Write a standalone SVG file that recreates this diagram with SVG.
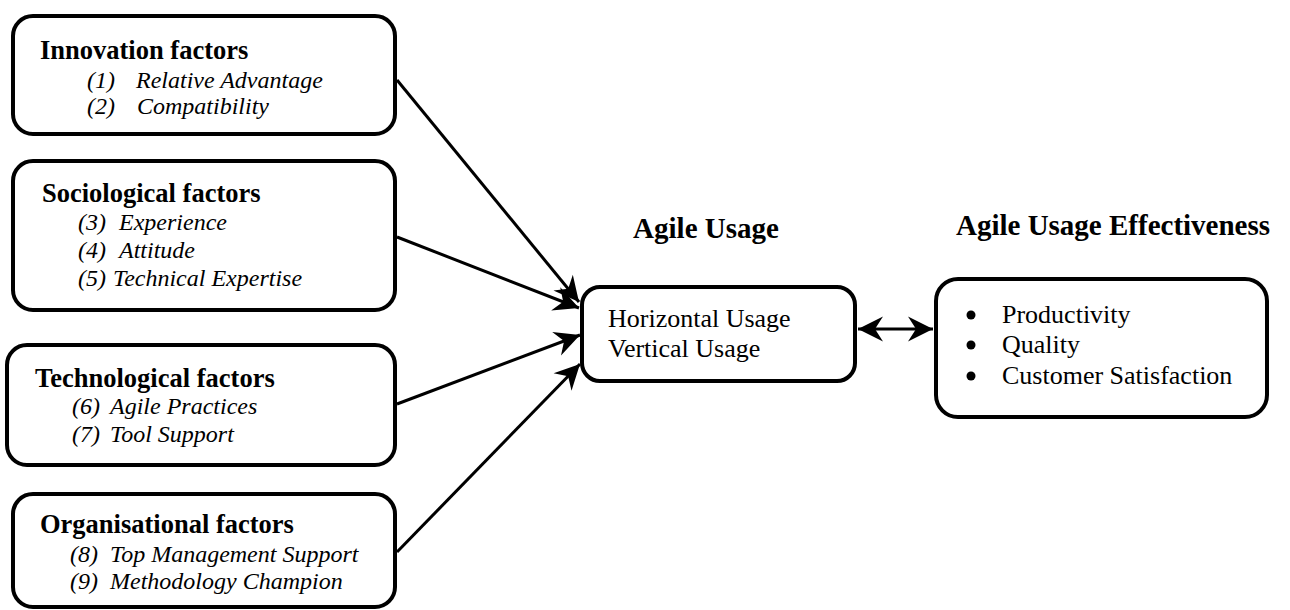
<svg xmlns="http://www.w3.org/2000/svg" width="1290" height="610" viewBox="0 0 1290 610">
<style>
.box{fill:#fff;stroke:#000;stroke-width:4}
.con{stroke:#000;stroke-width:3;fill:none}
.h{font-family:"Liberation Serif","Times New Roman",serif;font-weight:bold;font-size:26.5px;fill:#000}
.t{font-family:"Liberation Serif","Times New Roman",serif;font-weight:bold;font-size:29px;fill:#000}
.i{font-family:"Liberation Serif","Times New Roman",serif;font-style:italic;font-size:24px;fill:#000}
.r{font-family:"Liberation Serif","Times New Roman",serif;font-size:26px;fill:#000}
</style>
<defs>
<marker id="ah" markerUnits="userSpaceOnUse" markerWidth="30" markerHeight="30" viewBox="-27 -15 30 30" refX="0" refY="0" orient="auto-start-reverse">
<path d="M0,0 L-25,-12.5 L-17,0 L-25,12.5 Z" fill="#000"/>
</marker>
</defs>
<rect width="1290" height="610" fill="#fff"/>
<g id="connectors">
<line class="con" x1="397" y1="80" x2="579" y2="302" marker-end="url(#ah)"/>
<line class="con" x1="397" y1="237" x2="579" y2="308" marker-end="url(#ah)"/>
<line class="con" x1="397" y1="404" x2="580" y2="335" marker-end="url(#ah)"/>
<line class="con" x1="397" y1="552" x2="580" y2="364" marker-end="url(#ah)"/>
<line class="con" x1="858" y1="329" x2="933" y2="329" marker-start="url(#ah)" marker-end="url(#ah)"/>
</g>
<g id="innovation">
<rect class="box" x="13" y="16" width="382" height="118" rx="20"/>
<text class="h" x="40" y="59">Innovation factors</text>
<text class="i" y="88"><tspan x="87">(1)</tspan><tspan x="136">Relative Advantage</tspan></text>
<text class="i" y="114"><tspan x="87">(2)</tspan><tspan x="137">Compatibility</tspan></text>
</g>
<g id="sociological">
<rect class="box" x="13" y="161" width="382" height="149" rx="20"/>
<text class="h" x="42" y="202">Sociological factors</text>
<text class="i" y="230"><tspan x="78">(3)</tspan><tspan x="119">Experience</tspan></text>
<text class="i" y="258"><tspan x="78">(4)</tspan><tspan x="119">Attitude</tspan></text>
<text class="i" y="286"><tspan x="78">(5)</tspan><tspan x="113">Technical Expertise</tspan></text>
</g>
<g id="technological">
<rect class="box" x="7" y="345" width="388" height="120" rx="20"/>
<text class="h" x="35" y="387">Technological factors</text>
<text class="i" y="414"><tspan x="72">(6)</tspan><tspan x="110">Agile Practices</tspan></text>
<text class="i" y="442"><tspan x="72">(7)</tspan><tspan x="110">Tool Support</tspan></text>
</g>
<g id="organisational">
<rect class="box" x="13" y="494" width="382" height="113" rx="20"/>
<text class="h" x="40" y="533">Organisational factors</text>
<text class="i" y="562"><tspan x="70">(8)</tspan><tspan x="110">Top Management Support</tspan></text>
<text class="i" y="589"><tspan x="70">(9)</tspan><tspan x="110">Methodology Champion</tspan></text>
</g>
<g id="agile-usage">
<text class="t" x="706" y="238" text-anchor="middle">Agile Usage</text>
<rect class="box" x="582" y="287" width="273" height="94" rx="18"/>
<text class="r" x="608" y="327">Horizontal Usage</text>
<text class="r" x="608" y="357">Vertical Usage</text>
</g>
<g id="effectiveness">
<text class="t" x="1113" y="235" text-anchor="middle">Agile Usage Effectiveness</text>
<rect class="box" x="936" y="279" width="331" height="138" rx="22"/>
<circle cx="971" cy="315" r="4.5"/>
<circle cx="971" cy="345" r="4.5"/>
<circle cx="971" cy="376" r="4.5"/>
<text class="r" x="1002" y="323">Productivity</text>
<text class="r" x="1002" y="353">Quality</text>
<text class="r" x="1002" y="384">Customer Satisfaction</text>
</g>
</svg>
